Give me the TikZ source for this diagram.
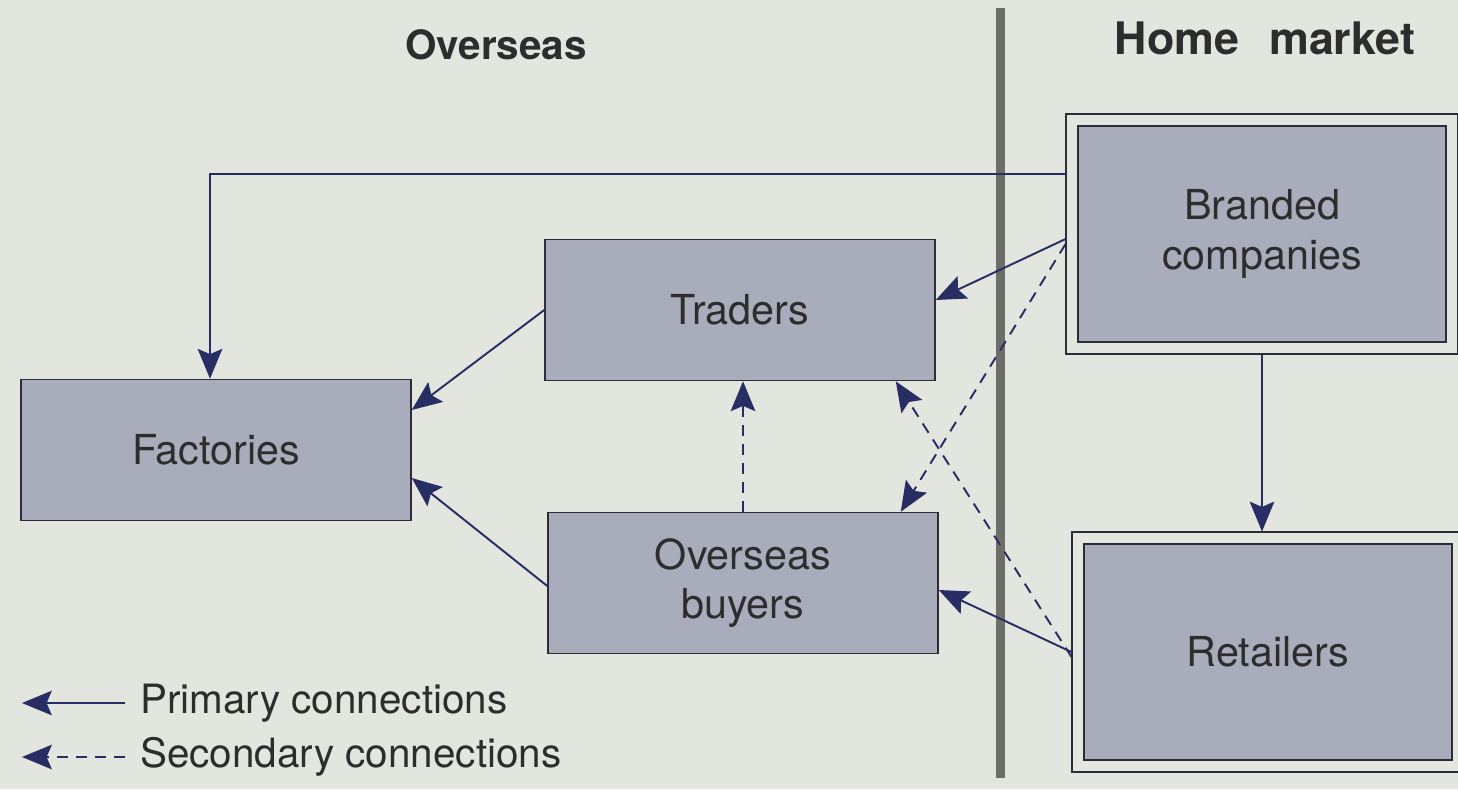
\documentclass[tikz,border=0pt]{standalone}
\usepackage{fontspec}
\setmainfont{TeX Gyre Heros}
\usepackage{tikz}
\usetikzlibrary{arrows.meta}
\definecolor{paper}{RGB}{227,230,223}
\definecolor{boxfill}{RGB}{168,172,187}
\definecolor{navy}{RGB}{40,45,100}
\definecolor{ink}{RGB}{45,45,45}
\definecolor{rulegrey}{RGB}{110,110,105}

\begin{document}
\begin{tikzpicture}[x=0.02cm,y=-0.02cm,every text node part/.style={align=center},
box/.style={draw=ink!80!navy, line width=0.9pt, fill=boxfill, text=ink, font=\fontsize{23.5}{28}\selectfont, minimum width=7.8cm, minimum height=2.82cm},
homebox/.style={box, double=paper, double distance=0.2cm, minimum width=7.6cm, minimum height=4.56cm, outer sep=0.13cm},
primary/.style={navy, line width=1.1pt, -{Stealth[length=17pt,width=14pt,inset=3pt]}},
secondary/.style={primary, dash pattern=on 0.22cm off 0.16cm},
head/.style={text=ink, font=\fontsize{23}{27}\selectfont\bfseries},
legend/.style={text=ink, inner xsep=0.3cm, font=\fontsize{23}{27}\selectfont}]
\path[use as bounding box, fill=paper] (0,0) rectangle (1458,789);
\draw[rulegrey, line width=0.18cm] (1000,8) -- (1000,778);
\node[head] (ovh) at (496,45) {Overseas};
\node[head, font=\fontsize{25.5}{30}\selectfont\bfseries] (hmh) at (1265,38) {Home\hspace{0.35cm} market};
\node[box] (fac) at (216,450) {Factories};
\node[box] (tr) at (740,310) {Traders};
\node[box] (ob) at (743,583) {Overseas\\buyers};
\node[homebox] (bc) at (1262,234) {Branded\\companies};
\node[homebox] (rt) at (1268,652) {Retailers};
\draw[primary] ([yshift=1.2cm]bc.west) -| ([xshift=-0.12cm]fac.north);
\draw[primary] ([yshift=-0.1cm]bc.west) -- ([yshift=0.2cm]tr.east);
\draw[secondary] ([yshift=-0.2cm]bc.west) -- ([xshift=-0.76cm]ob.north east);
\draw[primary] (bc.south) -- (bc.south |- rt.north);
\draw[primary] (rt.west) -- ([yshift=-0.14cm]ob.east);
\draw[secondary] ([yshift=-0.1cm]rt.west) -- ([xshift=-0.8cm]tr.south east);
\draw[primary] (tr.west) -- ([yshift=0.8cm]fac.east);
\draw[primary] ([yshift=-0.06cm]ob.west) -- ([yshift=-0.56cm]fac.east);
\draw[secondary] (ob.north) -- (ob.north |- tr.south);
\node[legend, anchor=west] (prim) at (125,703) {Primary connections};
\node[legend, anchor=west] (sec) at (125,757) {Secondary connections};
\coordinate (pend) at (22,703);
\coordinate (send) at (22,757);
\draw[primary] (prim.west) -- (pend);
\draw[secondary] (sec.west) -- (send);
\end{tikzpicture}
\end{document}
